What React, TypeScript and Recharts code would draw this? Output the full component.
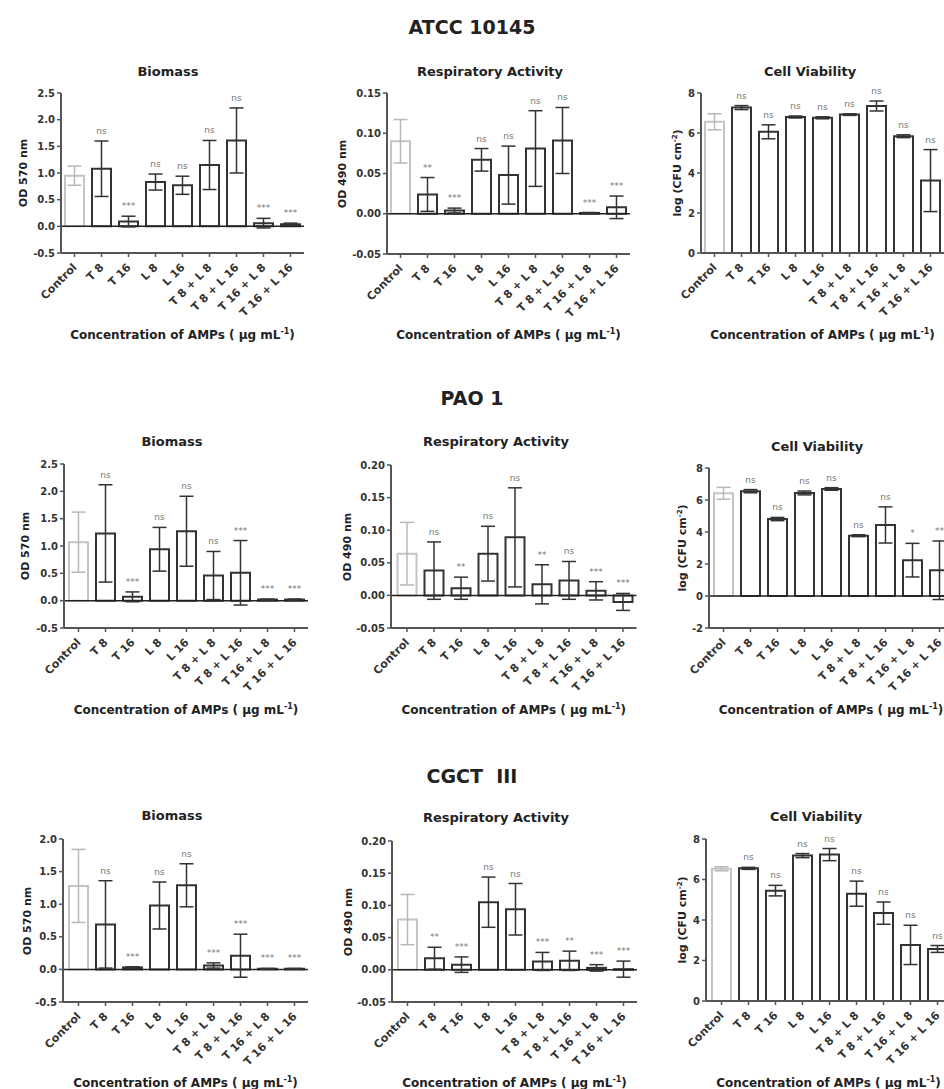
import React from 'react';
import { ComposedChart, Bar, Line, XAxis, YAxis, ErrorBar, Cell, LabelList, ReferenceLine } from 'recharts';

const categories = ['Control', 'T 8', 'T 16', 'L 8', 'L 16', 'T 8 + L 8', 'T 8 + L 16', 'T 16 + L 8', 'T 16 + L 16'];

// ATCC 10145
const atccBiomass = [0.95, 1.08, 0.09, 0.83, 0.77, 1.15, 1.61, 0.06, 0.04];
const atccBiomassErr = [0.18, 0.52, 0.1, 0.15, 0.17, 0.46, 0.61, 0.09, 0.02];
const atccBiomassSig = ['', 'ns', '***', 'ns', 'ns', 'ns', 'ns', '***', '***'];
const atccResp = [0.09, 0.024, 0.004, 0.067, 0.048, 0.081, 0.091, 0.001, 0.008];
const atccRespErr = [0.027, 0.021, 0.003, 0.014, 0.036, 0.047, 0.041, 0.0005, 0.014];
const atccRespSig = ['', '**', '***', 'ns', 'ns', 'ns', 'ns', '***', '***'];
const atccViab = [6.56, 7.27, 6.06, 6.8, 6.76, 6.92, 7.35, 5.84, 3.62];
const atccViabErr = [0.4, 0.1, 0.35, 0.05, 0.05, 0.04, 0.25, 0.07, 1.55];
const atccViabSig = ['', 'ns', 'ns', 'ns', 'ns', 'ns', 'ns', 'ns', 'ns'];

// PAO 1
const paoBiomass = [1.07, 1.23, 0.07, 0.94, 1.27, 0.46, 0.51, 0.02, 0.02];
const paoBiomassErr = [0.55, 0.89, 0.09, 0.4, 0.64, 0.44, 0.59, 0.01, 0.01];
const paoBiomassSig = ['', 'ns', '***', 'ns', 'ns', 'ns', '***', '***', '***'];
const paoResp = [0.064, 0.038, 0.011, 0.064, 0.089, 0.017, 0.023, 0.007, -0.01];
const paoRespErr = [0.048, 0.044, 0.017, 0.042, 0.076, 0.03, 0.029, 0.014, 0.013];
const paoRespSig = ['', 'ns', '**', 'ns', 'ns', '**', 'ns', '***', '***'];
const paoViab = [6.42, 6.55, 4.81, 6.44, 6.69, 3.77, 4.44, 2.24, 1.61];
const paoViabErr = [0.37, 0.1, 0.1, 0.12, 0.08, 0.06, 1.13, 1.05, 1.83];
const paoViabSig = ['', 'ns', 'ns', 'ns', 'ns', 'ns', 'ns', '*', '**'];

// CGCT III
const cgctBiomass = [1.28, 0.69, 0.03, 0.98, 1.29, 0.06, 0.21, 0.01, 0.01];
const cgctBiomassErr = [0.56, 0.67, 0.01, 0.36, 0.33, 0.04, 0.33, 0.005, 0.005];
const cgctBiomassSig = ['', 'ns', '***', 'ns', 'ns', '***', '***', '***', '***'];
const cgctResp = [0.078, 0.018, 0.008, 0.105, 0.094, 0.013, 0.014, 0.003, 0.001];
const cgctRespErr = [0.039, 0.017, 0.012, 0.039, 0.04, 0.014, 0.015, 0.005, 0.0125];
const cgctRespSig = ['', '**', '***', 'ns', 'ns', '***', '**', '***', '***'];
const cgctViab = [6.53, 6.55, 5.45, 7.18, 7.23, 5.3, 4.34, 2.77, 2.57];
const cgctViabErr = [0.1, 0.05, 0.26, 0.1, 0.3, 0.62, 0.55, 0.97, 0.17];
const cgctViabSig = ['', 'ns', 'ns', 'ns', 'ns', 'ns', 'ns', 'ns', 'ns'];

const biomassTicks = [-0.5, 0, 0.5, 1.0, 1.5, 2.0, 2.5];
const biomassTicksShort = [-0.5, 0, 0.5, 1.0, 1.5, 2.0];
const respTicks = [-0.05, 0, 0.05, 0.1, 0.15];
const respTicksTall = [-0.05, 0, 0.05, 0.1, 0.15, 0.2];
const viabTicks = [0, 2, 4, 6, 8];
const viabTicksNeg = [-2, 0, 2, 4, 6, 8];

const FONT = '"DejaVu Sans", "Liberation Sans", Arial, sans-serif';
const BAND = 27;
const YW = 45;
const MT = 20;
const XH = 85;

const buildRows = (values: number[], errs: number[], sig: string[]) =>
  categories.map((name, i) => ({
    name,
    value: values[i],
    errDark: i === 0 ? null : errs[i],
    errLight: i === 0 ? errs[i] : null,
    top: values[i] + errs[i],
    sig: sig[i],
  }));

const AngledTick = (props: any) => {
  const { x, y, payload } = props;
  return (
    <g transform={`translate(${x + 3},${y + 9})`}>
      <text textAnchor="end" transform="rotate(-45)" fontSize={11} fontWeight="bold" fill="#333" fontFamily={FONT}>
        {payload.value}
      </text>
    </g>
  );
};

const Txt = ({ x, y, size, bold = true, rotate = false, children }: any) => (
  <div
    style={{
      position: 'absolute',
      left: x,
      top: y,
      transform: `translate(-50%, -50%)${rotate ? ' rotate(-90deg)' : ''}`,
      whiteSpace: 'nowrap',
      fontSize: size,
      fontWeight: bold ? 'bold' : 'normal',
      color: '#222',
      lineHeight: 1,
    }}
  >
    {children}
  </div>
);

interface PanelProps {
  values: number[];
  errs: number[];
  sig: string[];
  domain: [number, number];
  ticks: number[];
  decimals: number;
  axisX: number;
  plotTop: number;
  plotBottom: number;
  padLeft: number;
  title: string;
  titleX: number;
  titleY: number;
  yLabel: React.ReactNode;
  yLabelX: number;
  xTitleY: number;
}

const Panel = (p: PanelProps) => {
  const data = buildRows(p.values, p.errs, p.sig);
  const plotH = p.plotBottom - p.plotTop;
  const plotW = BAND * 9 + p.padLeft;
  return (
    <>
      <Txt x={p.titleX} y={p.titleY} size={13}>{p.title}</Txt>
      <Txt x={p.yLabelX} y={(p.plotTop + p.plotBottom) / 2} size={11} rotate>{p.yLabel}</Txt>
      <Txt x={p.axisX + plotW / 2} y={p.xTitleY} size={12}>
        Concentration of AMPs ( μg mL<sup style={{ fontSize: 8 }}>-1</sup>)
      </Txt>
      <div style={{ position: 'absolute', left: p.axisX - YW, top: p.plotTop - MT }}>
        <ComposedChart
          width={YW + plotW + 4}
          height={MT + plotH + XH}
          data={data}
          margin={{ top: MT, right: 4, left: 0, bottom: 0 }}
        >
          <XAxis
            dataKey="name"
            height={XH}
            interval={0}
            tick={<AngledTick />}
            tickSize={4}
            padding={{ left: p.padLeft, right: 0 }}
            axisLine={{ stroke: '#555', strokeWidth: 2 }}
            tickLine={{ stroke: '#555', strokeWidth: 1.5 }}
          />
          <YAxis
            width={YW}
            domain={p.domain}
            ticks={p.ticks}
            interval={0}
            allowDataOverflow
            tickSize={4}
            tickFormatter={(v: number) => v.toFixed(p.decimals)}
            tick={{ fontSize: 10, fontWeight: 'bold', fill: '#333', fontFamily: FONT }}
            axisLine={{ stroke: '#555', strokeWidth: 2 }}
            tickLine={{ stroke: '#555', strokeWidth: 1.5 }}
          />
          {p.domain[0] < 0 && <ReferenceLine y={0} stroke="#222" strokeWidth={1.5} />}
          <Bar dataKey="value" barSize={19} fill="#fff" strokeWidth={2} isAnimationActive={false}>
            {data.map((d, i) => (
              <Cell key={d.name} stroke={i === 0 ? '#c4c4c4' : '#333'} />
            ))}
            <ErrorBar dataKey="errDark" width={7} stroke="#333" strokeWidth={1.5} />
            <ErrorBar dataKey="errLight" width={7} stroke="#b8b8b8" strokeWidth={1.5} />
          </Bar>
          <Line dataKey="top" stroke="none" dot={false} activeDot={false} isAnimationActive={false}>
            <LabelList dataKey="sig" position="top" offset={7} fontSize={9} fill="#777" fontFamily={FONT} />
          </Line>
        </ComposedChart>
      </div>
    </>
  );
};

const od570 = 'OD 570 nm';
const od490 = 'OD 490 nm';
const cfu = (
  <span>
    log (CFU cm<sup style={{ fontSize: 7 }}>-2</sup>)
  </span>
);

export default function App() {
  return (
    <div
      style={{
        position: 'absolute',
        left: 0,
        top: 0,
        width: 944,
        height: 1089,
        overflow: 'hidden',
        background: '#fff',
        fontFamily: FONT,
      }}
    >
      <Txt x={472} y={27} size={19}>ATCC 10145</Txt>
      <Txt x={472} y={398} size={19}>PAO 1</Txt>
      <Txt x={472} y={776} size={19}>CGCT&nbsp;&nbsp;III</Txt>

      <Panel values={atccBiomass} errs={atccBiomassErr} sig={atccBiomassSig} domain={[-0.5, 2.5]} ticks={biomassTicks}
        decimals={1} axisX={61} plotTop={93} plotBottom={253} padLeft={0} title="Biomass" titleX={168} titleY={71}
        yLabel={od570} yLabelX={23} xTitleY={334} />
      <Panel values={atccResp} errs={atccRespErr} sig={atccRespSig} domain={[-0.05, 0.15]} ticks={respTicks}
        decimals={2} axisX={387} plotTop={93} plotBottom={254} padLeft={0} title="Respiratory Activity" titleX={490} titleY={71}
        yLabel={od490} yLabelX={342} xTitleY={334} />
      <Panel values={atccViab} errs={atccViabErr} sig={atccViabSig} domain={[0, 8]} ticks={viabTicks}
        decimals={0} axisX={701} plotTop={93} plotBottom={253} padLeft={0} title="Cell Viability" titleX={810} titleY={71}
        yLabel={cfu} yLabelX={677} xTitleY={334} />

      <Panel values={paoBiomass} errs={paoBiomassErr} sig={paoBiomassSig} domain={[-0.5, 2.5]} ticks={biomassTicks}
        decimals={1} axisX={64} plotTop={464} plotBottom={628} padLeft={1} title="Biomass" titleX={172} titleY={441}
        yLabel={od570} yLabelX={25} xTitleY={709} />
      <Panel values={paoResp} errs={paoRespErr} sig={paoRespSig} domain={[-0.05, 0.2]} ticks={respTicksTall}
        decimals={2} axisX={391} plotTop={465} plotBottom={628} padLeft={2.5} title="Respiratory Activity" titleX={496} titleY={441}
        yLabel={od490} yLabelX={347} xTitleY={709} />
      <Panel values={paoViab} errs={paoViabErr} sig={paoViabSig} domain={[-2, 8]} ticks={viabTicksNeg}
        decimals={0} axisX={709} plotTop={468} plotBottom={628} padLeft={1} title="Cell Viability" titleX={817} titleY={446}
        yLabel={cfu} yLabelX={682} xTitleY={709} />

      <Panel values={cgctBiomass} errs={cgctBiomassErr} sig={cgctBiomassSig} domain={[-0.5, 2.0]} ticks={biomassTicksShort}
        decimals={1} axisX={63} plotTop={839} plotBottom={1002} padLeft={2} title="Biomass" titleX={172} titleY={815}
        yLabel={od570} yLabelX={27} xTitleY={1082} />
      <Panel values={cgctResp} errs={cgctRespErr} sig={cgctRespSig} domain={[-0.05, 0.2]} ticks={respTicksTall}
        decimals={2} axisX={392} plotTop={841} plotBottom={1002} padLeft={2} title="Respiratory Activity" titleX={496} titleY={817}
        yLabel={od490} yLabelX={348} xTitleY={1082} />
      <Panel values={cgctViab} errs={cgctViabErr} sig={cgctViabSig} domain={[0, 8]} ticks={viabTicks}
        decimals={0} axisX={706} plotTop={839} plotBottom={1001} padLeft={2} title="Cell Viability" titleX={816} titleY={816}
        yLabel={cfu} yLabelX={682} xTitleY={1082} />
    </div>
  );
}
